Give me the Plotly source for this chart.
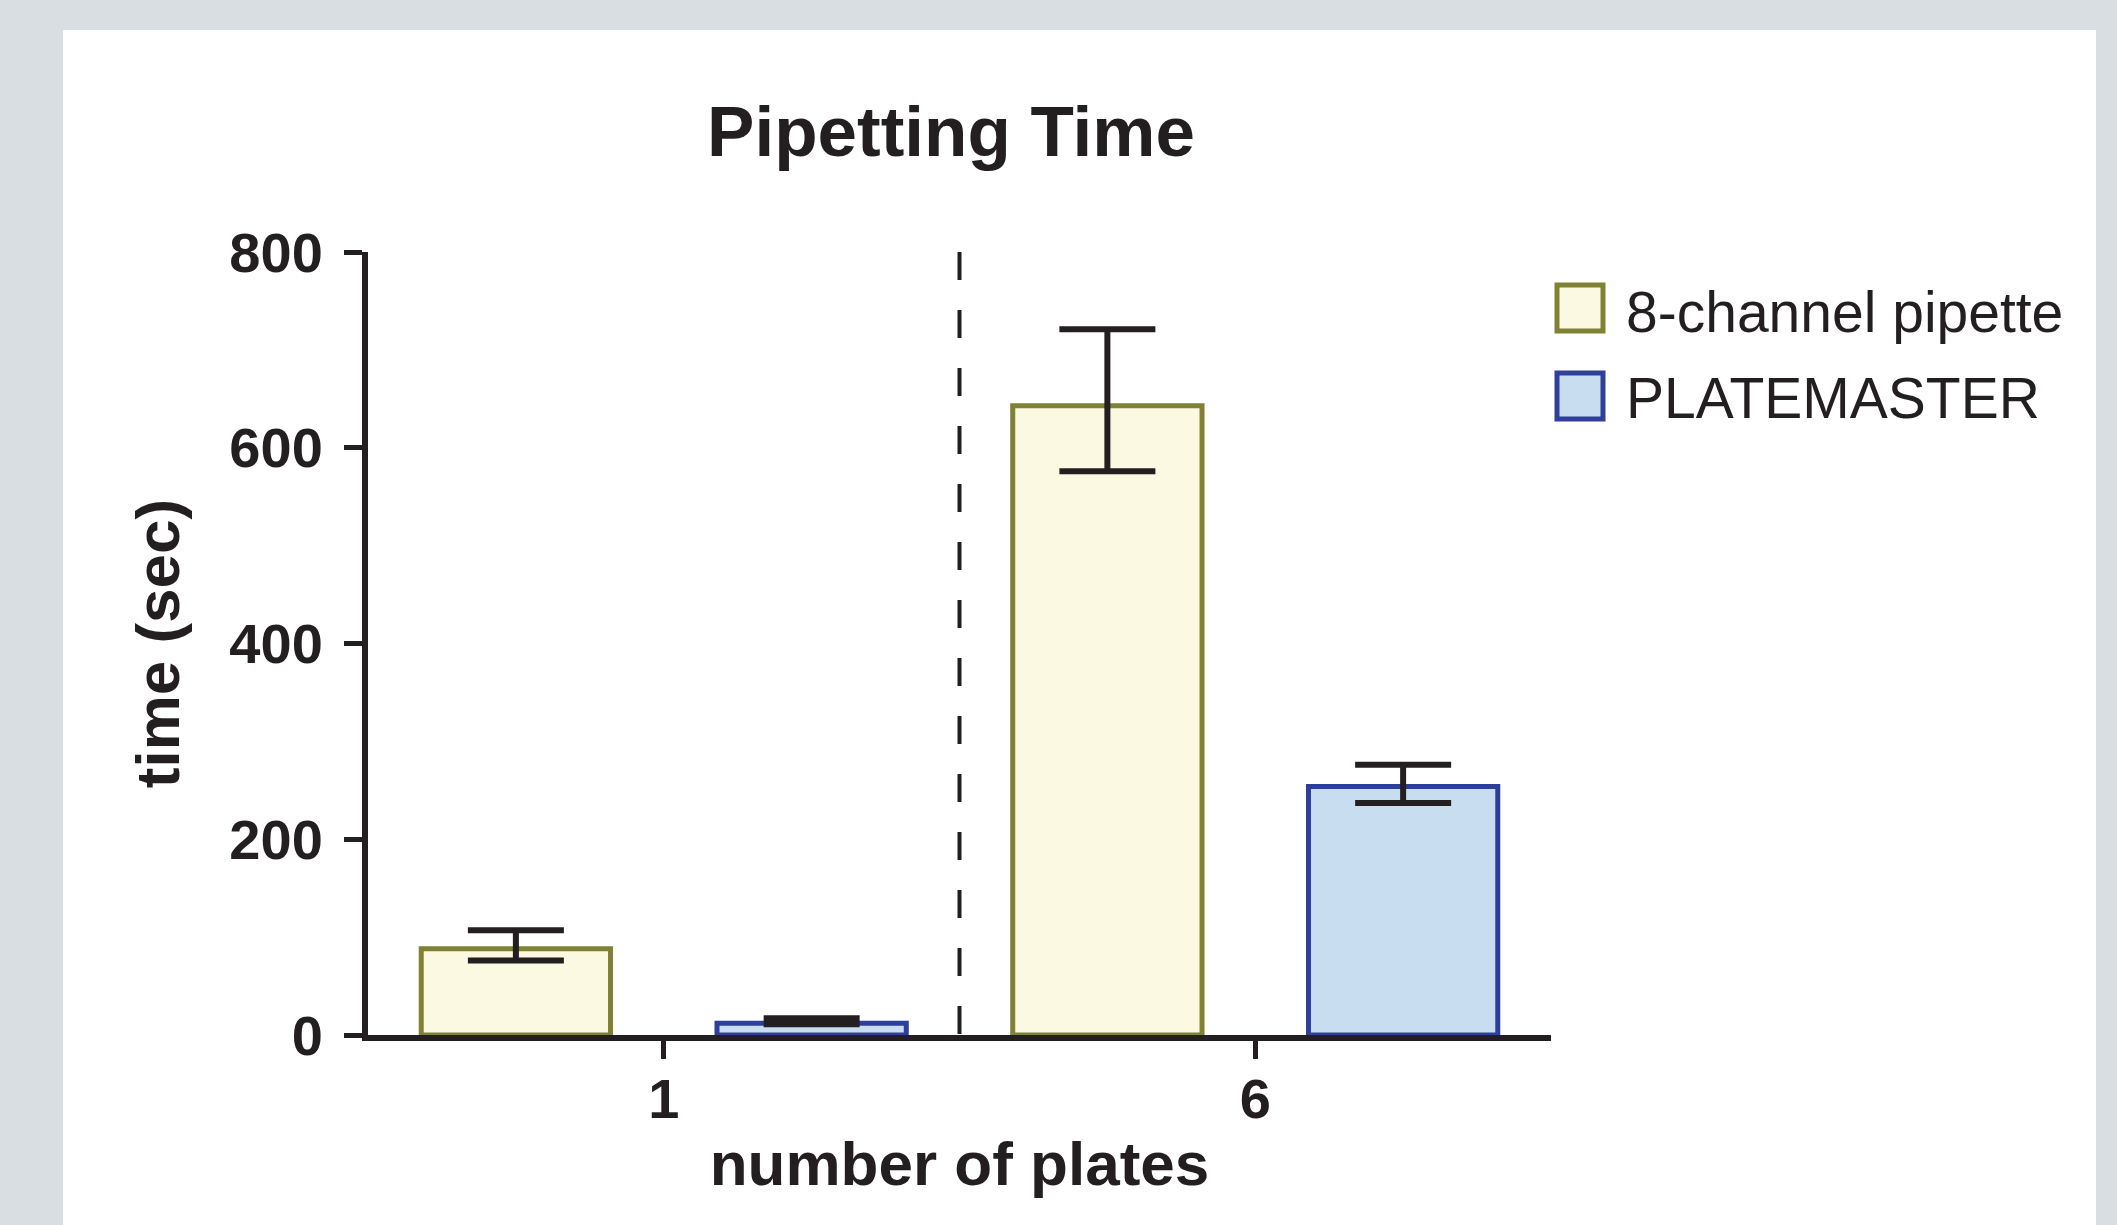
import plotly.graph_objects as go

# ---------------- data ----------------
categories = ["1", "6"]
series_names = ["8-channel pipette", "PLATEMASTER"]
pipette_mean = [88, 643]
pipette_err_plus = [19, 78]
pipette_err_minus = [12, 67]
platemaster_mean = [12, 254]
platemaster_err_plus = [5, 22]
platemaster_err_minus = [1, 17]
y_tick_values = [0, 200, 400, 600, 800]
y_tick_labels = ["0", "200", "400", "600", "800"]

# ---------------- styles ----------------
W, H = 2117, 1225
L, R, T, B = 368, 1551, 252, 1035          # plot area in pixels
DARK = "#231f20"
OLIVE = "#7f8133"
CREAM = "#fbf9e1"
BLUE = "#2d3f98"
LIGHTBLUE = "#c9ddf1"
GRAYBG = "#d9dee2"
FONT = "Liberation Sans, Arial, Helvetica, sans-serif"


def px_x(p):
    return (p - L) / (R - L)


def px_y(p):
    return (B - p) / (B - T)


fig = go.Figure()
fig.add_trace(go.Bar(
    x=categories, y=pipette_mean, name=series_names[0],
    marker=dict(color=CREAM, line=dict(color=OLIVE, width=5)),
    error_y=dict(type="data", symmetric=False, array=pipette_err_plus,
                 arrayminus=pipette_err_minus, color=DARK, thickness=6, width=48),
    showlegend=False,
))
fig.add_trace(go.Bar(
    x=categories, y=platemaster_mean, name=series_names[1],
    marker=dict(color=LIGHTBLUE, line=dict(color=BLUE, width=5)),
    error_y=dict(type="data", symmetric=False, array=platemaster_err_plus,
                 arrayminus=platemaster_err_minus, color=DARK, thickness=6, width=48),
    showlegend=False,
))

shapes = [
    # white panel on grey page
    dict(type="rect", xref="paper", yref="paper", layer="below",
         x0=px_x(63), x1=px_x(2096), y0=px_y(1240), y1=px_y(30),
         fillcolor="white", line=dict(width=0)),
    # dashed separator between groups (drawn top-down so a dash starts at the top)
    dict(type="line", xref="x", yref="y", x0=0.5, x1=0.5, y0=800, y1=0,
         line=dict(color=DARK, width=4, dash="28px,30px")),
    # legend swatches
    dict(type="rect", xref="paper", yref="paper",
         x0=px_x(1557), x1=px_x(1603), y0=px_y(331), y1=px_y(285),
         fillcolor=CREAM, line=dict(color=OLIVE, width=5)),
    dict(type="rect", xref="paper", yref="paper",
         x0=px_x(1557), x1=px_x(1603), y0=px_y(419), y1=px_y(373),
         fillcolor=LIGHTBLUE, line=dict(color=BLUE, width=5)),
]

annotations = [
    dict(text=series_names[0], xref="paper", yref="paper", x=px_x(1624), y=px_y(312),
         xanchor="left", yanchor="middle", showarrow=False,
         font=dict(family=FONT, size=57, color=DARK)),
    dict(text=series_names[1], xref="paper", yref="paper", x=px_x(1624), y=px_y(398),
         xanchor="left", yanchor="middle", showarrow=False,
         font=dict(family=FONT, size=57, color=DARK)),
]

fig.update_layout(
    width=W, height=H,
    margin=dict(l=L, r=W - R, t=T, b=H - B, pad=0),
    paper_bgcolor=GRAYBG, plot_bgcolor="rgba(0,0,0,0)",
    barmode="group", bargap=0, bargroupgap=0.36,
    title=dict(text="Pipetting Time", x=951 / W, xanchor="center",
               y=1 - 131 / H, yanchor="middle",
               font=dict(family=FONT, size=71, color=DARK, weight="bold")),
    shapes=shapes, annotations=annotations,
    showlegend=False,
)
fig.update_xaxes(
    type="category", range=[-0.5, 1.5],
    showline=True, linecolor=DARK, linewidth=6,
    ticks="outside", ticklen=18, tickwidth=5, tickcolor=DARK,
    showgrid=False, zeroline=False, ticklabelstandoff=-8,
    tickfont=dict(family=FONT, size=56, color=DARK, weight="bold"),
    title=dict(text="number of plates", standoff=14,
               font=dict(family=FONT, size=62, color=DARK, weight="bold")),
)
fig.update_yaxes(
    range=[0, 800], tickvals=y_tick_values, ticktext=y_tick_labels,
    showline=True, linecolor=DARK, linewidth=6,
    ticks="outside", ticklen=18, tickwidth=5, tickcolor=DARK,
    showgrid=False, zeroline=False, ticklabelstandoff=10,
    tickfont=dict(family=FONT, size=56, color=DARK, weight="bold"),
    title=dict(text="time (sec)", standoff=32,
               font=dict(family=FONT, size=62, color=DARK, weight="bold")),
)

fig.write_html(
    "out.html",
    config={"displayModeBar": False},
    post_script="document.body.style.margin='0';document.body.style.background='%s';" % GRAYBG,
)
